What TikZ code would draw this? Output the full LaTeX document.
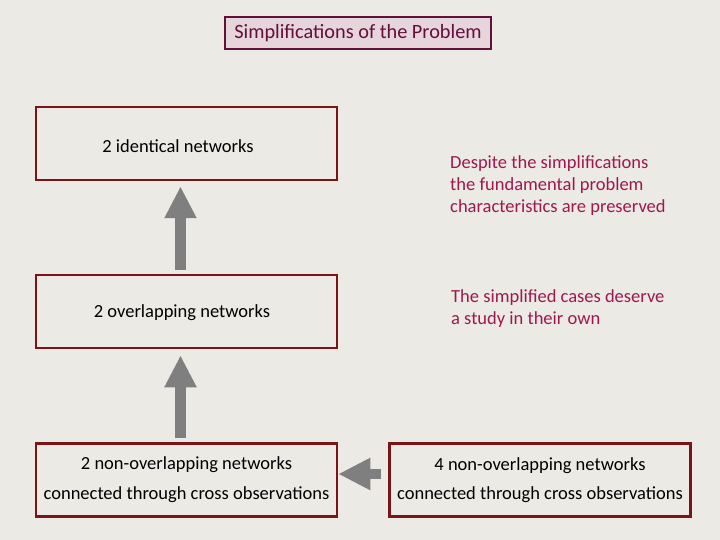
\documentclass[tikz,border=0pt]{standalone}
\usepackage{fontspec}
\setmainfont{Carlito}
\usepackage{xcolor}
\usetikzlibrary{positioning,arrows.meta}
\definecolor{paper}{HTML}{ECEAE5}
\definecolor{boxred}{HTML}{7B1416}
\definecolor{maroon}{HTML}{62103A}
\definecolor{titlefill}{HTML}{E6D5DA}
\definecolor{notered}{HTML}{A0174E}
\definecolor{arrowgray}{HTML}{7F7F7F}

\begin{document}
\begin{tikzpicture}[
    x=1pt, y=-1pt,
    every node/.style={font=\fontsize{18.5}{22}\selectfont},
    title/.style={rectangle, draw=maroon, line width=1.5pt, fill=titlefill, text=maroon, minimum width=266pt, minimum height=32pt, font=\fontsize{20.3}{22}\selectfont},
    netbox/.style={rectangle, draw=boxred, line width=2.5pt, minimum width=301pt, minimum height=73pt, inner sep=0pt},
    note/.style={text=notered, align=left, anchor=north west, inner sep=0pt},
    bigarrow/.style={draw=arrowgray, line width=10.5pt, -{Triangle[length=32pt,width=30pt]}}
]
\useasboundingbox[fill=paper] (0,0) rectangle (720,540);

\node[title] (title) at (358,33) {Simplifications of the Problem};

\node[netbox] (ident) at (186.5,143.5) {};
\node (identtxt) at (178,146) {2 identical networks};
\node[netbox] (overlap) at (186.5,311.5) {};
\node (overlaptxt) at (182,312.5) {2 overlapping networks};
\node[netbox, align=center] (nonover) at (186.5,480) {2 non-overlapping networks\\[8pt]connected through cross observations};
\node[netbox, align=center] (four) at (540,480) {4 non-overlapping networks\\[7pt]connected through cross observations};

\node[note] (despite) at (450,155) {Despite the simplifications\\the fundamental problem\\characteristics are preserved};
\node[note] (ownstudy) at (451,289) {The simplified cases deserve\\a study in their own};

% block arrows between the cases
\draw[bigarrow, shorten <=4pt, shorten >=5pt] ([xshift=-6pt]overlap.north) -- ([xshift=-6pt]ident.south);
\draw[bigarrow, shorten <=4pt, shorten >=6pt] ([xshift=-6pt]nonover.north) -- ([xshift=-6pt]overlap.south);
\draw[bigarrow, shorten <=7pt, shorten >=0pt] ([yshift=6pt]four.west) -- ([yshift=6pt]nonover.east);

\end{tikzpicture}
\end{document}
